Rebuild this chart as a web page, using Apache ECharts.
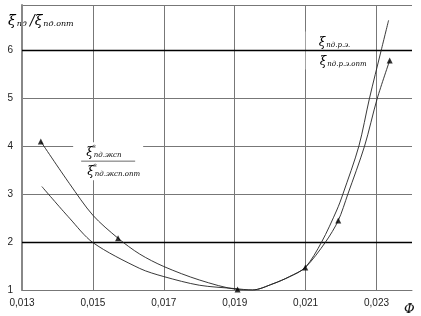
<!DOCTYPE html>
<html><head><meta charset="utf-8">
<script src="https://cdn.jsdelivr.net/npm/echarts@6/dist/echarts.min.js"></script>
<style>html,body{margin:0;padding:0;background:#fff}#c{width:421px;height:316px}</style>
</head><body><div id="c"></div>
<script>
// x tick values (Ф) and y tick values
const xTicks = [0.013, 0.015, 0.017, 0.019, 0.021, 0.023];
const yTicks = [1, 2, 3, 4, 5, 6];

// experimental curve (with triangle markers)
const expX = [0.01353, 0.01434, 0.01500, 0.01571, 0.01632, 0.01700, 0.01800, 0.01908, 0.01950, 0.02008, 0.02055, 0.02099, 0.02156, 0.02192, 0.02219, 0.02266, 0.02302, 0.02337];
const expY = [4.10, 3.22, 2.56, 2.08, 1.75, 1.49, 1.21, 1.01, 1.00, 1.13, 1.28, 1.47, 2.00, 2.45, 3.00, 4.00, 5.00, 5.79];

// calculated curve (no markers)
const calcX = [0.01356, 0.01434, 0.01500, 0.01632, 0.01700, 0.01800, 0.01900, 0.01950, 0.02008, 0.02055, 0.02099, 0.02145, 0.02188, 0.02205, 0.02250, 0.02280, 0.02313, 0.02334];
const calcY = [3.16, 2.50, 1.99, 1.45, 1.28, 1.10, 1.03, 1.00, 1.13, 1.28, 1.47, 2.00, 2.67, 3.00, 4.00, 5.00, 6.00, 6.63];

// measured points (triangles)
const markX = [0.01353, 0.01571, 0.01908, 0.02099, 0.02192, 0.02337];
const markY = [4.10, 2.08, 1.01, 1.47, 2.45, 5.79];

// emphasized horizontal reference levels
const refLevels = [2, 6];

const zip = (a, b) => a.map((v, i) => [v, b[i]]);
const FONT = 'Liberation Sans';
const SERIF = 'DejaVu Serif';
const chart = echarts.init(document.getElementById('c'), null, {renderer: 'canvas'});

const option = {
  animation: false,
  backgroundColor: '#fff',
  grid: {left: 22, right: 9, top: 5, bottom: 26},
  xAxis: {
    type: 'value', min: 0.013, max: 0.024, interval: 0.002,
    name: 'Φ', nameLocation: 'end', nameGap: -8,
    nameTextStyle: {fontFamily: SERIF, fontStyle: 'italic', fontSize: 13, color: '#111', verticalAlign: 'top', padding: [13, 0, 0, 0]},
    axisLine: {show: true, lineStyle: {color: '#777', width: 1}},
    axisTick: {show: false},
    axisLabel: {
      fontFamily: FONT, fontSize: 10, color: '#222', margin: 8, showMaxLabel: false,
      formatter: v => xTicks.some(t => Math.abs(t - v) < 1e-7) ? v.toFixed(3).replace('.', ',') : ''
    },
    splitLine: {show: true, showMinLine: false, showMaxLine: false, lineStyle: {color: '#777', width: 1}}
  },
  yAxis: {
    type: 'value', min: 1, max: 6.95, interval: 1,
    axisLine: {show: true, lineStyle: {color: '#888', width: 2}},
    axisTick: {show: false},
    axisLabel: {
      fontFamily: FONT, fontSize: 10, color: '#222', margin: 9,
      formatter: v => yTicks.includes(Math.round(v * 1000) / 1000) ? String(v) : ''
    },
    splitLine: {show: true, showMinLine: false, showMaxLine: true, lineStyle: {color: '#777', width: 1}}
  },
  series: [
    {
      type: 'line', data: zip(expX, expY), smooth: 0.3, showSymbol: false,
      lineStyle: {color: '#222', width: 0.9}, z: 5,
      markLine: {
        silent: true, symbol: ['none', 'none'], label: {show: false},
        lineStyle: {color: '#000', width: 1.4, type: 'solid'},
        data: refLevels.map(v => ({yAxis: v}))
      }
    },
    {
      type: 'line', data: zip(calcX, calcY), smooth: 0.3, showSymbol: false,
      lineStyle: {color: '#222', width: 0.9}, z: 5
    },
    {
      type: 'scatter', data: zip(markX, markY), symbol: 'triangle', symbolSize: 6,
      itemStyle: {color: '#000'}, z: 6
    }
  ]
};
chart.setOption(option);

const richFrac = {
  x: {fontFamily: SERIF, fontStyle: 'italic', fontSize: 12, color: '#333', lineHeight: 16, verticalAlign: 'bottom'},
  s: {fontFamily: SERIF, fontStyle: 'italic', fontSize: 7, color: '#333', lineHeight: 16, verticalAlign: 'bottom', padding: [0, 0, 0, 1]}
};

function fracLabel(cx, cy, w, top, bot, sup) {
  const it = {fontFamily: SERIF, fontStyle: 'italic', fill: '#333'};
  const children = [
    {type: 'rect', shape: {x: -w / 2 - 8, y: -19, width: w + 16, height: 38}, style: {fill: '#fff'}},
    {type: 'line', shape: {x1: -w / 2, y1: 0, x2: w / 2, y2: 0}, style: {stroke: '#444', lineWidth: 0.8}},
    {type: 'text', x: -w / 2 + 5, y: -18, style: {text: '{x|ξ}{s|' + top + '}', rich: richFrac}},
    {type: 'text', x: -w / 2 + 6, y: 1, style: {text: '{x|ξ}{s|' + bot + '}', rich: richFrac}}
  ];
  if (sup) {
    children.push({type: 'text', x: -w / 2 + 11, y: -12, style: Object.assign({text: sup, fontSize: 6, textVerticalAlign: 'bottom'}, it)});
    children.push({type: 'text', x: -w / 2 + 12, y: 7, style: Object.assign({text: sup, fontSize: 6, textVerticalAlign: 'bottom'}, it)});
  }
  return {type: 'group', x: cx, y: cy, z: 10, children};
}

const p1 = chart.convertToPixel({gridIndex: 0}, [0.01543, 3.69]);
const p2 = chart.convertToPixel({gridIndex: 0}, [0.02196, 6.0]);

const richTitle = {
  x: {fontFamily: SERIF, fontStyle: 'italic', fontSize: 14, color: '#222', lineHeight: 20, verticalAlign: 'bottom'},
  s: {fontFamily: SERIF, fontStyle: 'italic', fontSize: 8, color: '#222', lineHeight: 18, verticalAlign: 'bottom', padding: [0, 3, 0, 1]}
};

chart.setOption({
  graphic: [
    fracLabel(p1[0], p1[1], 54, 'пд.эксп', 'пд.эксп.опт', 'в'),
    fracLabel(p2[0], p2[1], 52, 'пд.р.э.', 'пд.р.э.опт', null),
    {
      type: 'group', x: 6, y: 8, z: 10,
      children: [
        {type: 'rect', shape: {x: 0, y: 0, width: 68, height: 22}, style: {fill: '#fff'}},
        {type: 'text', x: 2, y: 0, style: {text: '{x|ξ}{s|пд}{x|/}{x|ξ}{s|пд.опт}', rich: richTitle}}
      ]
    }
  ]
});
</script></body></html>
